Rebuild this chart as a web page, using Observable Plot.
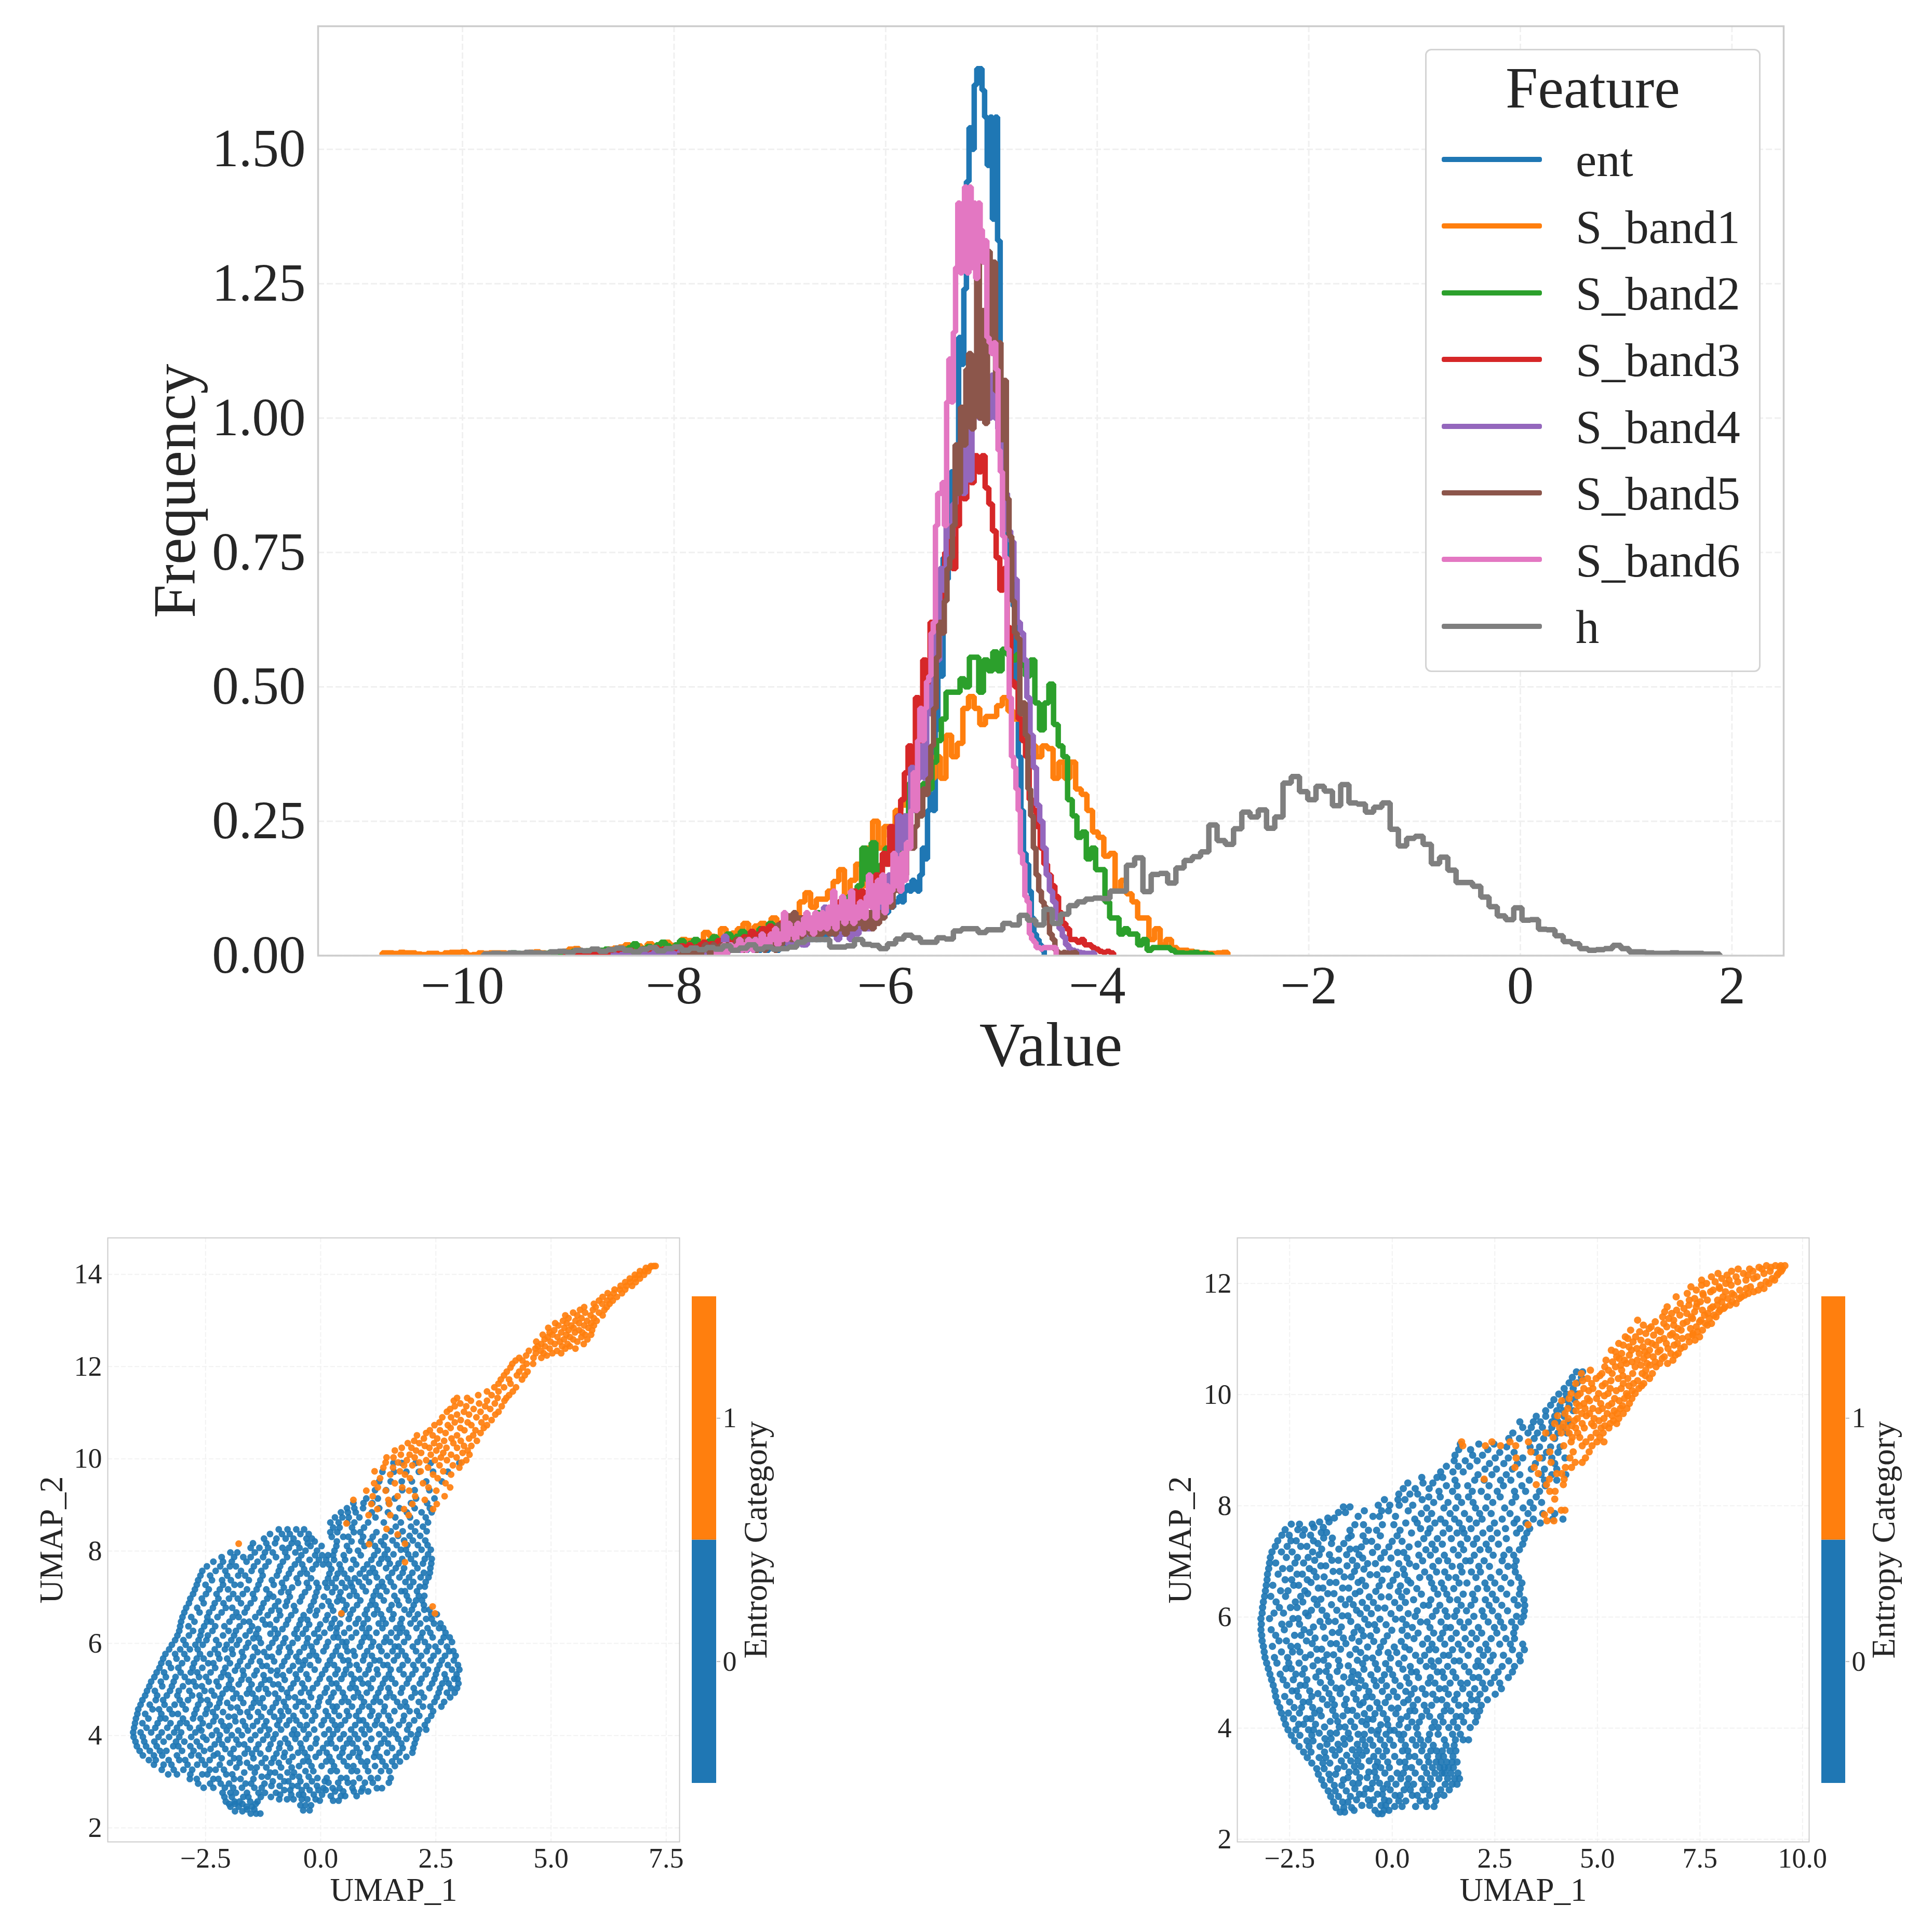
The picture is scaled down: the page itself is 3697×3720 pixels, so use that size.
<!DOCTYPE html>
<html><head><meta charset="utf-8">
<script src="https://cdn.jsdelivr.net/npm/d3@7"></script>
<script src="https://cdn.jsdelivr.net/npm/@observablehq/plot@0.6"></script>
<style>
html,body{margin:0;padding:0;background:#fff}
#page{position:relative;width:3697px;height:3720px;overflow:hidden;font-family:"Liberation Serif",serif;color:#262626}
#page svg{position:absolute;overflow:visible;max-width:none;background:transparent}
.lg{position:absolute;line-height:1;white-space:nowrap}
</style></head><body><div id="page"></div>
<script>
const features=["ent","S_band1","S_band2","S_band3","S_band4","S_band5","S_band6","h"];
const featureColors=["#1f77b4","#ff7f0e","#2ca02c","#d62728","#9467bd","#8c564b","#e377c2","#7f7f7f"];
const binStart=[-8.18,-10.76,-9.54,-9.05,-8.6,-7.97,-7.6,-9.8];
const binStep=[.02453,.0533,.0442,.0347,.0305,.0255,.02113,.0779];
const entValues=[0,0,.01,0,0,.01,0,.01,0,0,.01,.01,0,0,.01,0,.01,.01,0,.01,.01,.01,0,.01,.02,.01,.01,.02,.01,.01,.01,.02,.01,.01,.02,.01,.02,.02,.01,.02,.01,.02,.02,.01,.02,.02,.03,.01,.02,.02,.02,.02,.03,.02,.02,.03,.03,.02,.03,.03,.03,.04,.03,.03,.04,.03,.04,.05,.04,.04,.05,.05,.04,.05,.06,.05,.06,.06,.05,.06,.07,.06,.07,.08,.07,.08,.07,.09,.08,.08,.09,.09,.1,.1,.11,.1,.12,.13,.12,.14,.13,.12,.15,.2,.18,.27,.3,.27,.42,.55,.52,.74,.7,.8,.9,.88,.95,1.15,1.1,1.24,1.44,1.54,1.5,1.62,1.65,1.65,1.61,1.56,1.47,1.56,1.37,1.56,1.33,1.07,.96,.82,.68,.72,.65,.5,.37,.27,.19,.17,.12,.07,.04,.03,.02,.01];
const sBand1Values=[.005,.005,.004,.006,.005,.005,.003,.002,.004,.004,.002,.005,.006,.006,.007,.001,.002,.005,.004,.005,.005,.005,.004,.002,.003,.004,.006,.007,.005,.004,.003,.004,.008,.012,.013,.008,.006,.005,.007,.009,.012,.014,.016,.02,.016,.018,.013,.022,.018,.02,.025,.019,.017,.03,.028,.022,.027,.043,.036,.033,.05,.038,.042,.05,.06,.045,.055,.06,.05,.07,.058,.065,.07,.06,.1,.117,.09,.105,.105,.12,.138,.16,.11,.14,.17,.13,.2,.25,.2,.24,.22,.27,.28,.31,.33,.35,.37,.33,.37,.33,.41,.37,.395,.46,.482,.46,.43,.445,.445,.465,.48,.455,.44,.455,.40,.39,.37,.39,.385,.33,.36,.33,.36,.31,.30,.27,.23,.22,.185,.19,.12,.14,.115,.1,.07,.07,.03,.05,.02,.03,.015,.01,.01,.008,.006,.005,.004,.004,.005,.006];
const sBand2Values=[.005,.004,.003,.005,.002,.001,.003,.004,.006,.003,.005,.002,.006,.008,.005,.004,.009,.006,.007,.01,.012,.008,.01,.006,.012,.015,.022,.01,.013,.017,.012,.02,.025,.018,.014,.02,.028,.017,.023,.03,.02,.025,.027,.035,.025,.03,.04,.028,.036,.045,.03,.042,.035,.05,.04,.06,.045,.05,.06,.05,.055,.05,.07,.07,.065,.08,.07,.07,.08,.085,.1,.09,.11,.105,.13,.2,.14,.21,.14,.17,.2,.21,.19,.2,.26,.32,.3,.26,.32,.31,.36,.4,.44,.49,.49,.49,.515,.5,.555,.555,.49,.55,.53,.565,.53,.57,.56,.55,.56,.54,.52,.55,.47,.42,.47,.505,.43,.39,.37,.29,.26,.22,.23,.18,.2,.16,.16,.1,.07,.07,.04,.05,.04,.04,.02,.03,.01,.015,.015,.015,.015,.01,.005,.005,.004,.005,.006,.003,.004,.002];
const sBand3Values=[0,.002,0,.003,.002,.001,.004,.003,.002,.005,.004,.003,.006,.004,.008,.003,.006,.005,.01,.004,.007,.012,.006,.009,.005,.015,.008,.012,.006,.01,.014,.009,.018,.011,.02,.012,.016,.02,.025,.015,.022,.018,.028,.02,.03,.024,.018,.03,.026,.035,.03,.045,.03,.04,.05,.035,.055,.045,.04,.06,.05,.055,.05,.07,.06,.07,.055,.06,.07,.075,.065,.08,.07,.09,.08,.1,.085,.1,.09,.12,.08,.12,.1,.11,.13,.15,.13,.19,.17,.24,.18,.26,.29,.34,.39,.34,.48,.39,.55,.48,.62,.56,.64,.67,.75,.79,.72,.8,.86,.85,.95,.88,.93,.9,.93,.87,.84,.79,.74,.68,.72,.61,.51,.5,.44,.4,.37,.29,.27,.24,.2,.17,.15,.13,.11,.08,.06,.05,.03,.03,.025,.03,.02,.02,.015,.012,.008,.006,.008,.005];
const sBand4Values=[0,.001,0,.002,.001,0,.003,.002,.001,.003,.004,.001,.002,.005,.002,.003,.001,.006,.003,.004,.002,.006,.003,.007,.002,.004,.008,.004,.01,.003,.006,.012,.005,.009,.006,.036,.008,.012,.02,.01,.015,.012,.025,.015,.018,.03,.014,.022,.03,.018,.025,.04,.02,.03,.035,.02,.03,.045,.025,.02,.02,.05,.035,.06,.04,.07,.09,.05,.07,.04,.03,.05,.04,.06,.03,.05,.04,.06,.05,.05,.05,.08,.07,.11,.14,.1,.15,.12,.18,.26,.2,.26,.22,.35,.27,.33,.39,.33,.5,.45,.6,.55,.72,.68,.8,.78,.84,.89,.93,.86,.98,.885,1.05,1.09,1,1.06,1.04,1,1.08,1,.98,.92,.86,.79,.77,.7,.62,.6,.55,.48,.41,.35,.28,.25,.2,.15,.12,.1,.07,.05,.035,.02,.012,.01,.008,.006,.005,.004,.004,.005];
const sBand5Values=[0,0,.01,0,.01,0,.01,.01,0,.01,.02,.01,0,.02,.01,.01,.02,.01,.02,.01,.02,.01,.03,.02,.01,.03,.02,.02,.03,.01,.03,.04,.01,.03,.02,.04,.01,.057,.02,.05,.03,.074,.03,.08,.04,.07,.03,.06,.05,.04,.07,.03,.06,.04,.05,.07,.04,.05,.04,.06,.05,.07,.04,.06,.05,.05,.07,.06,.07,.05,.06,.08,.05,.07,.06,.08,.07,.1,.11,.09,.12,.13,.12,.18,.15,.2,.2,.2,.24,.3,.26,.31,.3,.33,.39,.46,.555,.62,.6,.66,.72,.74,.8,.95,.86,1.02,.95,1.09,1.12,.98,1.09,1.29,1,1.2,.99,1.31,1.14,1.29,1.05,1.14,.96,1.07,.85,.78,.66,.6,.59,.45,.47,.41,.31,.26,.2,.15,.12,.1,.09,.07,.04,.03,.01,.005,.004,.006,.005,.004,.005,.006];
const sBand6Values=[.01,0,.01,.02,0,.01,.02,.01,.01,.02,.03,.01,.02,.01,.03,.02,.01,.03,.02,.02,.04,.02,.03,.02,.04,.03,.05,.02,.04,.03,.08,.03,.06,.04,.05,.03,.06,.05,.04,.07,.08,.05,.07,.04,.08,.06,.05,.08,.06,.05,.09,.06,.12,.05,.09,.07,.11,.06,.1,.07,.12,.06,.09,.07,.1,.08,.07,.11,.15,.09,.13,.07,.14,.1,.15,.08,.13,.1,.12,.19,.13,.18,.12,.19,.14,.21,.2,.27,.34,.27,.4,.46,.4,.46,.51,.52,.6,.62,.8,.86,.86,.88,.8,1.03,1.11,1.03,1.16,1.28,1.4,1.27,1.4,1.43,1.27,1.43,1.28,1.4,1.26,1.4,1.35,1.29,1.33,1.15,1.14,1.12,1.14,1.09,.94,.9,.78,.74,.57,.48,.37,.35,.31,.27,.19,.17,.11,.1,.04,.03,.025,.015,.015,.012,.015,.015,.015,.015,.015,.015];
const hValues=[.003,.004,.003,.005,.004,.006,.005,.004,.007,.008,.006,.01,.009,.012,.008,.011,.014,.01,.007,.012,.015,.009,.013,.016,.01,.014,.011,.015,.012,.018,.01,.014,.02,.012,.016,.012,.013,.016,.025,.03,.03,.03,.016,.016,.018,.03,.021,.019,.013,.022,.031,.038,.033,.025,.025,.033,.031,.046,.05,.05,.043,.048,.048,.06,.057,.075,.066,.057,.086,.06,.077,.093,.1,.105,.107,.106,.12,.12,.168,.182,.119,.151,.153,.135,.163,.177,.184,.193,.243,.214,.207,.236,.267,.258,.271,.237,.258,.321,.333,.305,.29,.315,.306,.279,.318,.284,.282,.267,.276,.284,.235,.204,.218,.222,.207,.171,.183,.159,.136,.136,.129,.109,.091,.074,.067,.089,.066,.067,.049,.048,.037,.026,.022,.013,.01,.011,.013,.019,.013,.007,.007,.005,.004,.004,.005,.004,.004,.004,.003,.003];
const seriesValues=[entValues,sBand1Values,sBand2Values,sBand3Values,sBand4Values,sBand5Values,sBand6Values,hValues];
const valueTicks=[-10,-8,-6,-4,-2,0,2];
const freqTicks=[0,.25,.5,.75,1,1.25,1.5];

// UMAP points, short runs at one y level: [y*100, x*100, x*100, ...]
const umapABlue=[
[231,-152,-140,-131],[236,-186,-170],[240,-160,-144],[238,-38,-24],
[246,-196,-178,-161,-149],[252,-199,-186,-170,-141],[249,-44,-33,-21],
[257,-206,-187,-176,-153,-137],[262,-90,-73,-59,-41,-29,-11],[259,-2,27,39],
[267,-209,-193,-168,-157,-130,-108],[272,-88,-64,-47,-38,-15,3],[269,22,44,53,78],
[276,-213,-196,-184,-160,-135,-121,-97],[282,-79,-66,-41,-24,-5,11],[279,31,49,72,88,103],
[287,-254,-233,-208,-190,-171,-144,-128],[291,-107,-89,-62,-50,-31,-8],[286,6,26,41,69,91,122,133],
[296,-266,-240,-217,-199,-163,-151,-122],[301,-104,-79,-70,-44,-19,9],[298,17,38,59,71,96,113,148],
[306,-284,-269,-233,-222,-188,-174,-146],[311,-128,-115,-88,-61,-47,-26],[308,-7,13,44,56,84,109,124,152],
[316,-331,-312,-283,-257,-246,-205,-192],[320,-166,-143,-110,-99,-72,-58],[323,-33,-16,22,35,67,79,103,131,149],
[326,-345,-319,-298,-279,-241,-228,-210],[331,-183,-152,-139,-118,-86,-63],[334,-47,-20,2,29,58,71,97,118,141,161],
[337,-362,-341,-324,-289,-268,-251,-219],[341,-197,-176,-160,-128,-107,-91],[344,-69,-38,-26,12,24,50,88,101,134,155,172],
[347,-373,-358,-330,-307,-294,-258,-241],[351,-215,-188,-177,-146,-120,-102],[354,-80,-61,-29,-11,19,41,62,82,116,128,163,186],
[357,-386,-362,-344,-312,-281,-265,-232],[361,-224,-196,-165,-149,-131,-96],[363,-78,-49,-35,-3,13,47,70,85,119,144,171,199],
[367,-393,-371,-349,-335,-301,-276,-253],[371,-239,-207,-189,-158,-140,-113],[373,-90,-66,-41,-22,5,33,49,78,102,123,155,178,201],
[377,-399,-379,-356,-320,-309,-283,-262],[381,-230,-214,-178,-166,-135,-109],[383,-88,-71,-44,-11,14,23,57,69,98,131,146,175,204],
[387,-402,-383,-361,-341,-314,-296,-269],[391,-248,-221,-202,-183,-152,-125],[393,-103,-77,-55,-32,-9,21,42,63,81,110,138,168,186,207],
[397,-406,-386,-352,-329,-307,-281,-255],[401,-236,-219,-193,-171,-142,-116],[403,-98,-62,-51,-26,8,27,50,74,95,127,149,163,196,211],
[407,-407,-391,-368,-345,-318,-303,-272],[411,-259,-226,-204,-179,-158,-131],[413,-112,-86,-58,-37,-14,18,36,66,89,106,141,157,188,214,229],
[417,-405,-378,-359,-333,-312,-284,-264],[421,-242,-211,-198,-164,-147,-122],[423,-94,-74,-45,-30,2,31,44,75,99,118,133,170,192,226],
[427,-403,-387,-354,-326,-305,-291,-256],[431,-233,-216,-185,-169,-138,-118],[433,-90,-68,-53,-19,7,25,53,84,92,122,151,179,203,232],
[437,-401,-374,-348,-337,-299,-277,-261],[441,-228,-200,-187,-154,-129,-101],[443,-83,-59,-33,-12,16,40,61,77,108,126,147,181,214,240],
[447,-398,-381,-346,-322,-310,-274,-250],[451,-234,-212,-175,-159,-136,-110],[453,-87,-70,-39,-16,11,30,57,83,112,137,160,193,209,244],
[457,-396,-365,-351,-328,-293,-270,-247],[461,-225,-195,-181,-150,-123,-104],[463,-76,-54,-28,-6,26,35,68,90,105,139,173,186,222,238,262],
[467,-391,-371,-339,-317,-300,-266,-241],[471,-220,-203,-168,-145,-132,-97],[473,-80,-47,-37,-4,17,46,60,94,115,129,166,183,213,247,268],
[477,-387,-358,-342,-306,-288,-260,-246],[481,-218,-190,-174,-141,-126,-92],[483,-70,-56,-21,-1,23,52,72,87,120,143,158,197,224,252,281],
[487,-381,-355,-334,-311,-279,-263,-231],[491,-213,-183,-160,-148,-114,-99],[493,-73,-43,-25,9,28,48,81,100,125,150,174,205,218,256,274,291],
[497,-377,-360,-327,-308,-285,-252,-237],[501,-205,-192,-155,-135,-119,-85],[503,-65,-35,-17,13,39,64,76,109,130,147,177,202,236,259,283,296],
[507,-372,-344,-323,-299,-271,-258,-222],[511,-199,-178,-150,-129,-103,-92],[513,-59,-40,-8,24,34,69,91,103,135,162,187,215,242,264,278,299],
[517,-368,-347,-319,-287,-276,-243,-226],[521,-195,-172,-156,-121,-111,-78],[523,-51,-27,-2,19,45,73,86,113,140,154,191,219,247,272,290,297],
[527,-361,-336,-315,-295,-264,-249,-216],[531,-201,-167,-144,-124,-95,-82],[533,-54,-31,3,32,51,66,97,124,148,180,199,228,250,269,295],
[537,-356,-340,-304,-282,-268,-239,-211],[541,-186,-169,-139,-108,-94,-68],[543,-44,-13,10,37,55,83,104,122,152,171,206,233,253,285,301],
[547,-350,-325,-309,-278,-257,-229,-207],[551,-180,-158,-127,-117,-84,-60],[553,-38,-23,15,29,63,78,107,136,145,178,201,223,258,276,298],
[557,-346,-330,-301,-275,-244,-233,-197],[561,-175,-151,-132,-101,-79,-48],[563,-34,-5,20,49,60,92,117,128,159,189,212,239,263,289],
[567,-342,-313,-290,-269,-254,-220,-203],[571,-168,-147,-116,-106,-72,-53],[573,-24,-10,26,43,74,95,111,144,167,184,218,245,270,293],
[577,-337,-316,-296,-262,-240,-223,-191],[581,-171,-137,-123,-91,-66,-46],[583,-17,6,33,58,71,101,132,156,176,207,230,255,279,288],
[587,-329,-305,-284,-267,-230,-208,-193],[591,-162,-143,-112,-89,-69,-36],[593,-20,12,37,54,85,110,127,161,169,200,234,249,274],
[597,-323,-293,-272,-256,-221,-204,-182],[601,-157,-130,-105,-81,-61,-30],[603,-9,16,47,56,89,114,138,151,181,210,226,261,285],
[607,-316,-298,-265,-248,-227,-194,-177],[611,-146,-134,-98,-77,-50,-28],[613,-3,28,38,67,94,106,142,165,190,217,243,267,280],
[617,-311,-286,-261,-245,-212,-188,-163],[621,-140,-109,-93,-57,-39,-14],[623,8,34,51,77,99,121,153,172,186,221,238,271],
[627,-307,-277,-259,-235,-200,-184,-154],[631,-136,-100,-83,-52,-32,-6],[633,21,35,62,90,105,134,164,177,208,232,257,266],
[637,-305,-287,-253,-229,-209,-176,-149],[641,-120,-110,-75,-46,-25,-1],[643,24,42,76,93,126,141,173,195,216,246,260],
[647,-303,-274,-247,-238,-198,-167,-155],[651,-126,-96,-71,-43,-29,11],[653,30,61,82,102,135,155,176,204,229,241],
[657,-300,-281,-246,-224,-191,-178,-142],[661,-115,-88,-64,-37,-11,15],[663,45,64,96,116,131,158,192,211,240,252],
[667,-296,-263,-242,-215,-183,-165,-133],[671,-107,-90,-55,-24,-8,27],[673,52,70,100,123,149,182,198,225,236],
[677,-292,-268,-234,-206,-192,-160,-128],[681,-99,-76,-58,-21,3,22],[683,56,79,108,119,154,170,202,224],
[687,-286,-254,-230,-211,-173,-152,-124],[691,-92,-73,-45,-15,17,36],[693,48,86,112,137,166,191,207,220],
[697,-283,-258,-222,-199,-180,-144,-116],[701,-103,-67,-41,-12,7,40],[703,63,78,115,129,160,187,213,225],
[707,-277,-249,-226,-190,-169,-147,-111],[711,-86,-70,-34,-9,25,43],[713,72,98,120,143,175,183,209],
[717,-273,-243,-219,-201,-160,-139,-118],[721,-80,-62,-26,-5,14,32,54],[723,68,91,125,136,159,194,215,226],
[727,-269,-250,-212,-187,-174,-135,-102],[731,-84,-49,-30,-9,10,24,46,65],[733,83,105,133,152,184,201,228],
[737,-266,-236,-214,-195,-156,-131,-106],[741,-75,-52,-21,16,33,58,74],[743,97,122,147,171,192,217,234],
[747,-261,-240,-203,-179,-164,-126,-95],[751,-69,-44,-30,19,37,51,85],[753,106,118,155,178,199,224,237],
[757,-257,-228,-207,-173,-150,-129,-91],[761,-64,-36,-18,23,44,66,93],[763,113,142,163,181,210,238],
[767,-247,-218,-197,-184,-145,-120,-88],[771,-56,-40,-10,5,18,41,77,101],[773,127,150,169,204,222,240],
[777,-233,-212,-193,-161,-137,-113,-82],[781,-48,-24,-4,12,29,53,71,110],[783,132,146,177,196,226,241],
[787,-215,-188,-168,-152,-125,-97,-73],[791,-42,-12,3,16,27,50,87,116],[793,139,158,190,206,233],
[797,-196,-181,-143,-121,-104,-77,-55],[801,-33,-8,30,62,81,124],[803,145,174,185,219,239],
[807,-152,-133,-114,-83,-69,-46],[811,-22,2,34,57,95,118],[813,137,165,188,211,232],
[817,-147,-118,-99,-63,-50,-28],[821,-13,35,67,88,108,131],[823,156,181,200,227],
[827,-123,-96,-76,-59,-31,-19],[831,24,49,60,92,113,140],[833,168,193,216],
[837,-110,-84,-67,-44,-26],[841,21,36,72,86,121],[843,152,178,205,230],
[847,-91,-72,-53,-36],[851,27,41,68,94],[853,163,196,222],
[862,21,39,58,73,103,137,174,208,233],[873,31,47,61,84,119,162,194,228],[884,44,59,76,111,146,187,219,241],
[893,57,73,92,127,171,204,237],[904,71,93,112,148,196,231],[914,99,124,161,207,247],
[932,118,142,177,204,236],[951,127,152,176,198,229,263],[972,134,159,186,213,244,276],[991,158,176,206,239,301]];
const umapAOrange=[
[665,45,248],[680,243],[776,183],[815,105],[816,-178,183],[836,167],[848,143],[860,56],
[878,104,151,191],[891,123,181,244],[902,110,149,199,252],[911,71,147,226],
[919,113,167,205,269],[931,99,141,192,251],[938,124,177,234,281],[947,116,161,222,271],[958,129,194,254],
[966,151,183,244,283],[973,117,172,217,266],[981,136,157,233,301],[986,181,199,258,287],[992,141,168,214,306],
[997,187,229,248,274,316],[1003,143,158,204,261,295],[1009,174,193,239,283,323],[1013,218,266,308],[1018,161,207,251,319],
[1024,176,197,236,273,296],[1028,226,258,311,327],[1034,189,214,246,288],[1039,203,268,304,339],[1044,224,253,284,322],
[1051,209,243,296,331],[1056,229,271,347],[1062,237,259,312,336],[1067,282,303,354],[1073,247,276,327,361],
[1079,258,291,319,349],[1084,304,371],[1090,264,283,338,358],[1096,296,322,379],[1102,274,311,347,386],
[1108,281,332,368],[1114,291,316,357,393],[1120,303,344,378],[1126,289,326,361,399],[1132,296,318,384,403],
[1138,342,371,409],[1146,361,386,417],[1155,377,398,424],[1163,386,412],[1172,391,409,437],[1181,398,426,443],
[1189,404,431,449],[1198,412,439],[1206,416,447,461],[1213,423,438],[1219,431,462,479],[1224,446,491],
[1229,467,484,503,522],[1234,452,478,513],[1239,466,497,531,553],[1244,471,487,524,541],[1249,479,508,536,571],
[1254,468,499,519,557],[1259,486,528,548,579],[1264,493,514,541,566],[1269,482,503,533,574,587],[1274,497,522,552,568],
[1279,507,538,561,589],[1284,494,529,549,581],[1289,516,544,572,593],[1294,509,534,561,587],[1299,526,553,578,599],
[1305,538,566,593],[1311,531,557,586,612],[1317,548,574,604],[1323,563,591,616],[1329,572,597,621],[1336,593,611,627],
[1343,604,622,634],[1351,612,629,643],[1359,623,636,654],[1367,638,649,661],[1375,651,664,676],
[1383,661,672,684],[1391,671,682,693],[1399,682,691,702],[1407,693,703,711],[1414,706,714],[1418,717,723,727]];

const umapBBlue=[
[246,-34,-25],[249,-127,-116],[252,-93,-42,-20,-8],
[257,-137,-118,-99],[261,-74,-55,-27,-16],[259,6,24,57,84,102],
[267,-143,-121,-108],[271,-87,-58,-46,-19],[269,-8,16,33,68,81,106],
[277,-150,-131,-102],[281,-80,-69,-36,-24],[279,7,19,49,61,91,110,126],
[287,-156,-139,-112],[291,-91,-64,-52,-22],[289,-5,29,44,75,87,118,139],
[297,-166,-141,-123],[301,-96,-82,-48,-31],[299,-12,9,37,52,80,97,129,146,158],
[307,-172,-151,-119],[311,-108,-79,-61,-39],[309,-3,21,40,71,93,114,135,152,164],
[317,-180,-154,-138],[321,-105,-88,-57,-43],[319,-18,12,27,56,84,104,121,128,143,160],
[327,-184,-166,-133],[331,-117,-92,-76,-41],[329,-28,-7,33,47,78,98,116,127,137,149],
[337,-196,-169,-152],[341,-124,-101,-84,-56],[339,-36,-11,18,31,66,89,107,119,133,146,158],
[347,-207,-178,-162],[351,-139,-111,-88,-73],[349,-45,-23,6,41,55,86,113,125,148],
[357,-216,-198,-165],[361,-146,-129,-97,-80],[359,-63,-34,-14,25,38,72,94,108,122,141,155],
[367,-227,-203,-176],[371,-159,-132,-116,-85],[369,-66,-47,-19,3,32,58,76,100,131,151],
[377,-238,-208,-193],[381,-164,-149,-118,-103],[379,-72,-54,-29,-6,22,49,69,88,127,154,173,186],
[387,-246,-225,-196],[391,-178,-151,-136,-107],[389,-83,-68,-37,-15,16,28,62,91,112,147,166],
[397,-254,-235,-204,-192],[402,-165,-129,-115,-92],[396,-51,-34,-5,5],[401,38,59,97,112,138,159,190],
[407,-260,-228,-216,-187],[412,-151,-133,-101,-74],[406,-63,-28,-11,17],[411,48,66,103,124,149,174,203],
[417,-264,-241,-209,-198],[422,-173,-138,-120,-86],[416,-59,-47,-13,21],[421,36,72,91,118,156,168,207],
[427,-270,-253,-226,-189],[432,-177,-145,-109,-97],[426,-68,-42,-22,9],[431,43,55,84,127,143,181,198,213],
[437,-274,-239,-221,-194],[442,-158,-141,-116,-79],[436,-55,-31,-2,14],[441,51,78,96,133,162,179,217],
[447,-280,-250,-217,-203],[452,-170,-147,-112,-88],[446,-71,-37,-17,28],[451,39,62,108,121,152,193,207,232],
[457,-284,-262,-229,-196],[462,-181,-154,-127,-94],[456,-63,-49,-9,12],[461,46,81,99,137,158,189,214,251],
[467,-286,-244,-233,-201],[472,-163,-137,-123,-82],[466,-57,-24,3,33],[471,54,73,115,129,172,201,226,266],
[477,-290,-257,-224,-212],[482,-175,-149,-105,-91],[476,-66,-39,-14,19],[481,41,88,104,141,167,183,220,240,262],
[487,-294,-266,-241,-208],[492,-186,-153,-118,-99],[486,-76,-44,-26,7],[491,35,64,93,126,155,197,211,249,283],
[497,-298,-273,-235,-219],[502,-178,-161,-134,-96],[496,-83,-52,-19,1],[501,47,59,110,122,148,187,230,258,293],
[507,-302,-259,-246,-214],[512,-193,-156,-128,-107],[506,-69,-36,-7,26],[511,44,83,100,135,176,204,217,268,298],
[517,-306,-281,-252,-227],[522,-182,-167,-131,-85],[516,-72,-41,-16,16],[521,68,95,113,151,164,209,239,284,312],
[527,-310,-287,-255,-212],[532,-199,-159,-143,-103],[526,-64,-48,-4,29],[531,57,79,125,138,185,222,246,271,310],
[537,-312,-270,-243,-225],[542,-184,-172,-126,-89],[536,-77,-33,-10,11],[541,42,90,106,147,170,213,233,293,322],
[547,-314,-292,-247,-231],[552,-195,-150,-136,-113],[546,-60,-29,5,31],[551,74,97,128,161,191,228,262,288,318],
[557,-317,-276,-258,-209],[562,-188,-164,-119,-98],[556,-81,-45,-21,22],[561,53,86,117,144,178,205,241,277,298],
[567,-318,-284,-238,-222],[572,-201,-146,-130,-93],[566,-70,-53,-12,37],[571,63,101,123,156,194,218,255,296],
[577,-320,-295,-263,-215],[582,-192,-168,-124,-84],[576,-75,-38,-1,24],[581,49,92,131,142,175,210,249,272,300],
[587,-319,-269,-251,-226],[592,-176,-155,-139,-101],[586,-58,-43,-15,34],[591,69,85,119,165,186,234,264,291,314],
[597,-320,-299,-242,-229],[602,-205,-160,-122,-108],[596,-67,-30,8,25],[601,56,98,134,152,199,223,258,303,320],
[607,-317,-288,-265,-211],[612,-197,-171,-135,-87],[606,-78,-51,-3,39],[611,61,107,129,157,181,219,244,281,322],
[617,-316,-275,-248,-232],[622,-183,-148,-114,-95],[616,-62,-35,-18,18],[621,76,89,116,168,192,236,267,306,323],
[627,-314,-283,-236,-218],[632,-190,-174,-125,-104],[626,-73,-46,6,32],[631,52,94,140,159,201,227,253,297,321],
[637,-311,-296,-260,-223],[642,-206,-157,-142,-90],[636,-56,-27,-8,23],[641,71,111,133,173,196,244,279,310],
[647,-309,-272,-254,-213],[652,-180,-169,-121,-106],[646,-79,-40,15,35],[651,60,102,126,150,208,231,265,312],
[657,-307,-291,-240,-228],[662,-198,-152,-137,-83],[656,-65,-32,-6,20],[661,45,96,120,163,182,226,250,289,316],
[667,-305,-261,-245,-207],[672,-185,-166,-117,-100],[666,-74,-25,2,38],[671,67,91,137,155,204,240,274,308],
[677,-304,-278,-232,-219],[682,-191,-144,-128,-92],[676,-54,-37,11,30],[681,79,108,128,170,193,215,261,300],
[687,-301,-267,-249,-202],[692,-174,-162,-110,-86],[686,-69,-22,-11,27],[691,58,99,146,166,211,237,282,298],
[697,-299,-284,-237,-216],[702,-189,-147,-131,-97],[696,-60,-41,16,42],[701,74,113,135,179,190,224,268,302],
[707,-297,-258,-231,-205],[712,-178,-153,-111,-81],[706,-72,-28,-3,36],[711,65,93,127,161,200,246,272,296],
[717,-293,-270,-244,-194],[722,-172,-130,-103,-88],[716,-48,-19,13,28],[721,82,105,149,174,214,235,285,310],
[727,-285,-256,-223,-208],[732,-181,-148,-118],[726,-75,-36,-8,41],[731,63,97,122,167,198,229,259,318],
[737,-279,-247,-234,-192],[742,-167,-146,-107],[736,-64,-50,0,24],[741,77,110,144,183,206,242,278,322],
[747,-269,-251,-218,-199],[752,-173,-160],[746,-100,-71,-29,12],[751,47,87,124,158,175,221,256,303,328],
[757,-261,-230,-214],[761,-191,-168],[756,-103,-58,-38,19],[759,69,92,139,171,192,238,276,312,335],
[767,-246,-226,-195],[771,-177,-154],[766,-91,-70,-24,4],[769,33,61,104,129,163,205,249,297,326,361],
[778,-157,-141],[781,-83,-47,-31,8],[776,55,86,118,152,188,219,268,304,344,391,416],
[788,-131,-114],[791,-68,-26,-9,39],[786,71,96,141,176,213,241,287,331,367,396],
[798,-119,-103],[801,-34,-6,17,50],[796,84,126,155,203,228,274,319,344],
[811,-19,14,31,73],[806,101,136,169,197,245,292,336,364],
[821,16,43,62],[816,89,117,160,186,232,263,301,351],
[831,27,56,90],[826,114,147,195,217,256,298,325,359],
[841,38,75,99],[836,132,158,184,236,271,316,373],
[851,72,109,123],[846,153,201,224,264,289,334,371,401],
[861,118,148,173],[856,209,243,278,311,363,389,423],
[871,132,161,189],[866,226,254,293,339,371,401],
[881,151,178,207],[876,237,272,305,349,396],
[891,153,196,220],[886,251,283,318,366,389,421],
[901,162,191,233],[896,262,297,349,376,404],
[911,166,211,248],[906,279,336,359,386,409],
[921,284,310,346,369,396],[931,294,331,354,381,404,426],[941,318,339,366,389,416],
[951,311,344,361,389,404,429],[961,351,374,396,419],[971,374,401,417,441],[981,386,409,431],
[991,394,421,444],[1001,406,424,451],[1011,419,441],[1021,431,451],[1031,439,461],[1041,449,464]];
const umapBOrange=[
[766,331],[773,377,394],[784,371],[792,386,412,421],[812,396],[826,384,397],[838,351,376,417],
[848,224,383,419],[858,356,401,413],[869,299,346,422,437],[878,387,446,463],[886,302,358,433,471],
[897,338,384,441,480],[908,172,227,264,301,418,463,487],[915,169,243,287,332,436,472,499,516],
[923,392,439,457,484,506],[931,374,412,431,452,497,514],[940,408,425,447,468,509,528],
[944,438,491,518],[948,396,418,463,486,531,547],[953,444,504,539],[957,429,451,492,516,552],[962,403,473,536],[966,421,462,481,524,548,563],
[971,448,503,541],[975,428,470,489,512,556,572],[980,456,527,561],[984,449,467,508,535,578],[989,413,481,553],[993,431,476,498,542,566,584],
[998,452,517,574],[1002,436,458,503,526,571,592],[1007,479,546,585],[1011,467,489,531,558,601],[1016,512,577,608],[1020,447,486,519,563,588,613],
[1025,464,533,598],[1029,476,497,551,574,627],[1034,506,562,617],[1038,461,511,536,586,609,634],[1044,483,527,559,618],
[1050,518,544,592,643],[1053,557,606,628],[1056,571,621,652,671],[1059,537,584,641],[1062,521,566,597,684],[1065,553,613,658],[1068,547,636,663],[1071,578,622,690],[1074,559,602,679,697],
[1077,544,616,648],[1080,534,583,627,653],[1083,596,672,703],[1086,577,611,712],[1089,563,642,687],[1092,552,633,668,695],[1095,587,623,724],[1098,606,651,738],[1101,574,662,707],[1104,568,593,692,721,749],
[1107,637,678,733],[1110,618,683,733],[1113,603,654,744],[1116,581,647,704,756],[1119,626,696,727],[1122,631,669,741],[1125,612,686,768],[1128,662,709,763,778],[1131,641,718,749],[1134,598,686,752],
[1137,674,732,773],[1140,659,729,789],[1143,701,761,784],[1146,681,718,769],[1149,664,737,796],[1152,693,756,799],[1155,711,776,808],[1158,670,741,781,811],[1161,723,792,823],[1164,702,743,838],
[1167,751,803,829],[1170,724,768,793],[1173,737,818,846],[1176,692,806,851],[1179,758,833,859],[1182,719,757,828,868],[1185,776,812,881],[1188,741,782,847,892],[1191,798,863,906],[1194,728,797,873],
[1197,754,826,898],[1200,766,813,918],[1203,787,842,911],[1206,754,821,862,932],[1209,803,881,926],[1212,778,838,889],[1215,816,867,938],[1218,794,856,906,941],[1222,827,879,921,948],
[1226,843,871,901,951],[1229,894,923,944],[1232,912,934,947,957]];
const umapAXTicks=[-2.5,0,2.5,5,7.5];
const umapAYTicks=[2,4,6,8,10,12,14];
const umapBXTicks=[-2.5,0,2.5,5,7.5,10];
const umapBYTicks=[2,4,6,8,10,12];
const entropyCategories=[0,1];
const entropyColors=["#1f77b4","#ff7f0e"];

const page=document.getElementById("page");
const serif='"Liberation Serif","Times New Roman",serif';
function place(svg,left,top){svg.style.left=left+"px";svg.style.top=top+"px";page.appendChild(svg);}

const histRows=features.flatMap((f,k)=>{
  const v=seriesValues[k],s=binStart[k],w=binStep[k];
  const rows=[{f,x:s,y:0}];
  v.forEach((y,i)=>rows.push({f,x:s+i*w,y}));
  const e=s+v.length*w;
  rows.push({f,x:e,y:v[v.length-1]},{f,x:e,y:0});
  return rows;
});
const H=2200;
place(Plot.plot({
  width:3697,height:H,marginLeft:612,marginRight:263,marginTop:50,marginBottom:H-1839.5,
  x:{domain:[-11.365,2.489]},y:{domain:[0,1.729]},
  color:{domain:features,range:featureColors},
  style:{fontFamily:serif,color:"#262626",background:"transparent"},
  marks:[
    Plot.gridX(valueTicks,{stroke:"#f0f0f0",strokeOpacity:1,strokeWidth:3,strokeDasharray:"12,5"}),
    Plot.gridY(freqTicks,{stroke:"#f0f0f0",strokeOpacity:1,strokeWidth:3,strokeDasharray:"12,5"}),
    Plot.line(histRows,{x:"x",y:"y",z:"f",stroke:"f",strokeWidth:10.5,curve:"step-after",strokeLinejoin:"miter",strokeLinecap:"butt",clip:true}),
    Plot.frame({stroke:"#cccccc",strokeWidth:3.5}),
    Plot.axisX(valueTicks,{tickSize:0,tickPadding:19,fontSize:103,label:null,tickFormat:d3.format("d")}),
    Plot.axisY(freqTicks,{tickSize:0,tickPadding:24,fontSize:103,label:null,tickFormat:d3.format(".2f")}),
    Plot.text(["Value"],{frameAnchor:"bottom",dy:173,fontSize:121,lineAnchor:"middle"}),
    Plot.text(["Frequency"],{frameAnchor:"left",textAnchor:"middle",dx:-275,rotate:-90,fontSize:116,lineAnchor:"middle"})
  ]}),0,0);

const box=document.createElement("div");
box.style.cssText="position:absolute;left:2744px;top:94px;width:640px;height:1194px;border:3.5px solid #d4d4d4;border-radius:12px;background:#fff";
page.appendChild(box);
function lg(text,left,base,fs,extra){const d=document.createElement("div");d.className="lg";d.textContent=text;
  d.style.cssText+=`;left:${left}px;top:${base-.8375*fs}px;font-size:${fs}px;${extra||""}`;page.appendChild(d);}
lg("Feature",2744,207,112,"width:646px;text-align:center");
features.forEach((f,i)=>{
  const y=307+i*128.4;
  const l=document.createElement("div");
  l.style.cssText=`position:absolute;left:2776px;top:${y-5}px;width:193px;height:10px;border-radius:4px;background:${featureColors[i]}`;
  page.appendChild(l);
  lg(f,3034,y+33,90.5);
});

function expand(rows,cat){return rows.flatMap(([y,...xs])=>xs.map(x=>({x:x/100,y:y/100,cat})));}
function umap(o){
  const h=1420,top=2300;
  place(Plot.plot({
    width:o.right+60,height:h,marginLeft:o.left,marginRight:60,marginTop:2383-top,marginBottom:top+h-3546,
    x:{domain:o.xd},y:{domain:o.yd},
    color:{domain:entropyCategories,range:entropyColors},
    style:{fontFamily:serif,color:"#262626",background:"transparent"},
    marks:[
      Plot.gridX(o.xt,{stroke:"#f2f2f2",strokeOpacity:1,strokeWidth:2,strokeDasharray:"9,4"}),
      Plot.gridY(o.yt,{stroke:"#f2f2f2",strokeOpacity:1,strokeWidth:2,strokeDasharray:"9,4"}),
      Plot.dot(o.pts,{x:"x",y:"y",fill:"cat",r:o.r,fillOpacity:.92}),
      Plot.frame({stroke:"#cccccc",strokeWidth:2}),
      Plot.axisX(o.xt,{tickSize:0,tickPadding:11,fontSize:54,label:null,tickFormat:d3.format(".1f")}),
      Plot.axisY(o.yt,{tickSize:0,tickPadding:11,fontSize:54,label:null,tickFormat:d3.format("d")}),
      Plot.text(["UMAP_1"],{frameAnchor:"bottom",dy:93,fontSize:63,lineAnchor:"middle"}),
      Plot.text(["UMAP_2"],{frameAnchor:"left",textAnchor:"middle",dx:-o.ldx,rotate:-90,fontSize:63,lineAnchor:"middle"})
    ]}),0,top);
  const ctop=2400,ch=1100;
  const cells=entropyCategories.map(c=>({c,y1:c-.5,y2:c+.5}));
  place(Plot.plot({
    width:o.cw+200,height:ch,marginLeft:0,marginRight:200,marginTop:2496-ctop,marginBottom:ctop+ch-3433,
    x:{domain:[0,1],axis:null},y:{domain:[-.5,1.5]},
    color:{domain:entropyCategories,range:entropyColors},
    style:{fontFamily:serif,color:"#262626",background:"transparent"},
    marks:[
      Plot.rect(cells,{x1:0,x2:1,y1:"y1",y2:"y2",fill:"c"}),
      Plot.axisY(entropyCategories,{anchor:"right",tickSize:7,tickPadding:5,fontSize:54,label:null,tickFormat:d3.format("d"),stroke:"#bbbbbb",strokeWidth:2}),
      Plot.text(["Entropy Category"],{frameAnchor:"right",textAnchor:"middle",dx:o.cdx,rotate:-90,fontSize:64,lineAnchor:"middle"})
    ]}),o.cx,ctop);
}
umap({left:207,right:1308,xd:[-4.622,7.79],yd:[1.696,14.79],xt:umapAXTicks,yt:umapAYTicks,ldx:108,r:6.5,
  pts:[...expand(umapABlue,0),...expand(umapAOrange,1)],cx:1332,cw:47,cdx:76});
umap({left:2382,right:3483,xd:[-3.775,10.16],yd:[1.953,12.82],xt:umapBXTicks,yt:umapBYTicks,ldx:110,r:7,
  pts:[...expand(umapBBlue,0),...expand(umapBOrange,1)],cx:3507,cw:46,cdx:74});
</script></body></html>
